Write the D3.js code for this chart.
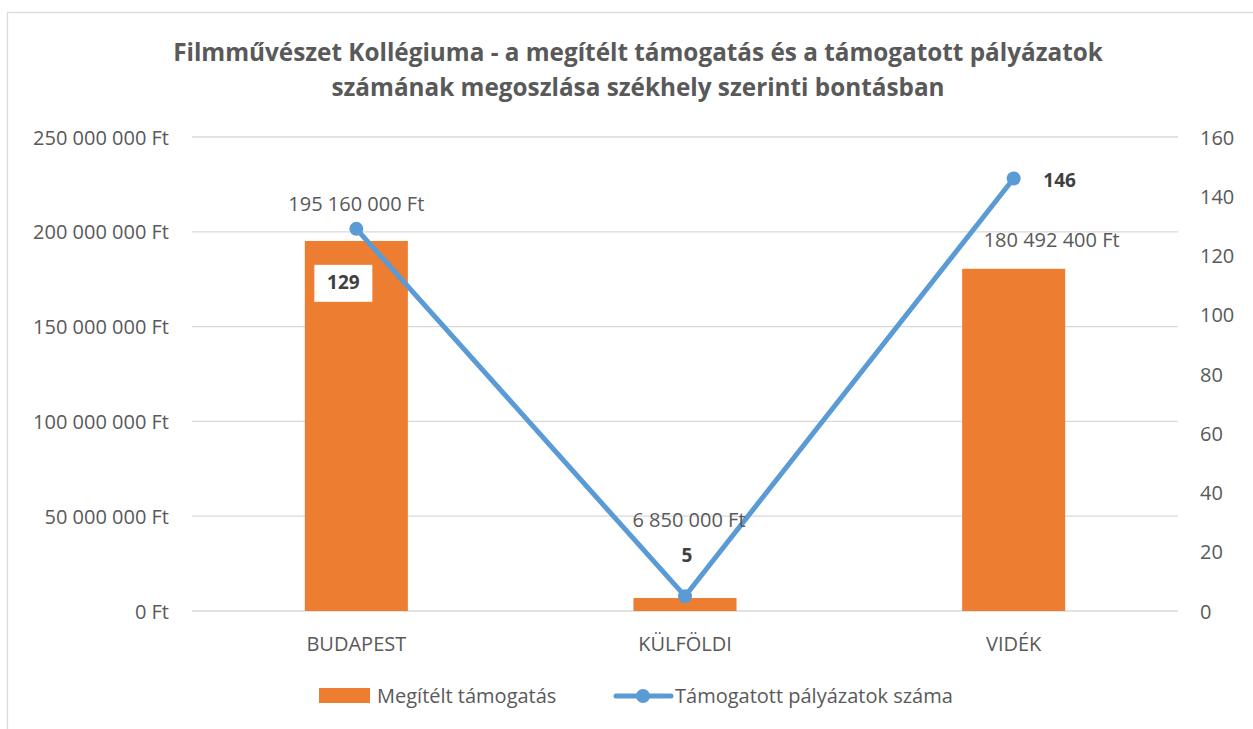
<!DOCTYPE html>
<html lang="hu">
<head>
<meta charset="UTF-8">
<title>Filmművészet Kollégiuma</title>
<script src="https://d3js.org/d3.v7.min.js"></script>
<style>
    body { margin: 0; background: #fff; }
    text { font-family: "Open Sans", sans-serif; fill: #595959; }
    .grid line { stroke: #d9d9d9; stroke-width: 1.3px; }
    .axis path, .axis line { display: none; }
    .axis text { font-size: 20px; }
</style>
</head>
<body>
<div id="chart"></div>
<script>
    // adatok
    const categories = ["BUDAPEST", "KÜLFÖLDI", "VIDÉK"];
    const amounts = [195160000, 6850000, 180492400];
    const counts = [129, 5, 146];
    const amountTicks = [0, 50000000, 100000000, 150000000, 200000000, 250000000];
    const countTicks = [0, 20, 40, 60, 80, 100, 120, 140, 160];
    const titleLines = ["Filmművészet Kollégiuma - a megítélt támogatás és a támogatott pályázatok",
                        "számának megoszlása székhely szerinti bontásban"];
    const legendLabels = ["Megítélt támogatás", "Támogatott pályázatok száma"];

    const width = 1253, height = 729;
    const margin = {top: 137, right: 75, bottom: 118, left: 192};

    const svg = d3.select("#chart").append("svg")
        .attr("width", width)
        .attr("height", height);

    // keret
    svg.append("rect")
        .attr("x", 7.5).attr("y", 12.5)
        .attr("width", width + 10).attr("height", height)
        .attr("fill", "none").attr("stroke", "#d9d9d9").attr("stroke-width", 1.3);

    // cím
    svg.append("text")
        .attr("x", 638).attr("y", 61)
        .attr("text-anchor", "middle")
        .style("font-size", "24.3px").style("font-weight", "bold")
        .selectAll("tspan").data(titleLines).enter().append("tspan")
        .attr("x", 638).attr("dy", (d, i) => i ? 35 : 0)
        .text(d => d);

    const x = d3.scaleBand().domain(categories)
        .range([margin.left, width - margin.right]);
    const y = d3.scaleLinear().domain([0, 250000000])
        .range([height - margin.bottom, margin.top]);
    const y2 = d3.scaleLinear().domain([0, 160])
        .range([height - margin.bottom, margin.top]);

    const fmt = v => d3.format(",")(v).replace(/,/g, " ") + " Ft";

    // rácsvonalak
    svg.append("g").attr("class", "grid")
        .selectAll("line").data(amountTicks).enter().append("line")
        .attr("x1", margin.left).attr("x2", width - margin.right)
        .attr("y1", d => y(d)).attr("y2", d => y(d));

    svg.append("g").attr("class", "axis")
        .attr("transform", "translate(" + (margin.left - 20) + ",0)")
        .call(d3.axisLeft(y).tickValues(amountTicks).tickFormat(fmt).tickSize(0))
        .selectAll("text").attr("dy", "0.35em");

    svg.append("g").attr("class", "axis")
        .attr("transform", "translate(" + (width - margin.right + 19) + ",0)")
        .call(d3.axisRight(y2).tickValues(countTicks).tickSize(0))
        .selectAll("text").attr("dy", "0.35em");

    svg.append("g").attr("class", "axis")
        .attr("transform", "translate(0," + (height - margin.bottom + 30) + ")")
        .call(d3.axisBottom(x).tickSize(0))
        .selectAll("text").attr("dy", "0.35em");

    // oszlopok
    const barW = x.bandwidth() / 3.19;
    svg.selectAll(".bar").data(categories).enter().append("rect")
        .attr("class", "bar")
        .attr("x", d => x(d) + x.bandwidth() / 2 - barW / 2)
        .attr("width", barW)
        .attr("y", (d, i) => y(amounts[i]))
        .attr("height", (d, i) => y(0) - y(amounts[i]))
        .attr("fill", "#ed7d31");

    // vonal
    const cx = d => x(d) + x.bandwidth() / 2;
    const line = d3.line().x(d => cx(d)).y((d, i) => y2(counts[i]));
    svg.append("path").datum(categories)
        .attr("d", line)
        .attr("fill", "none").attr("stroke", "#5b9bd5").attr("stroke-width", 5)
        .attr("stroke-linejoin", "round");
    svg.selectAll(".dot").data(categories).enter().append("circle")
        .attr("cx", cx).attr("cy", (d, i) => y2(counts[i]))
        .attr("r", 7).attr("fill", "#5b9bd5");

    // adatfeliratok - összeg
    const amountOffsets = [[0, -37], [4, -78], [38, -29]];
    svg.selectAll(".alabel").data(categories).enter().append("text")
        .attr("x", (d, i) => cx(d) + amountOffsets[i][0])
        .attr("y", (d, i) => y(amounts[i]) + amountOffsets[i][1])
        .attr("text-anchor", "middle").attr("dy", "0.35em")
        .style("font-size", "20px")
        .text((d, i) => fmt(amounts[i]));

    // adatfeliratok - darabszám
    const countOffsets = [[-13, 54], [2, -41], [46, 2]];
    const cl = svg.selectAll(".clabel").data(categories).enter().append("g")
        .attr("transform", (d, i) => "translate(" + (cx(d) + countOffsets[i][0]) + "," + (y2(counts[i]) + countOffsets[i][1]) + ")");
    cl.filter((d, i) => i === 0).append("rect")
        .attr("x", -29).attr("y", -18).attr("width", 58).attr("height", 37)
        .attr("fill", "#fff");
    cl.append("text")
        .attr("text-anchor", "middle").attr("dy", "0.35em")
        .style("font-size", "19px").style("font-weight", "bold")
        .style("fill", "#404040")
        .text((d, i) => counts[i]);

    // jelmagyarázat
    const lg = svg.append("g");
    lg.append("rect").attr("x", 319).attr("y", 688).attr("width", 51).attr("height", 15)
        .attr("fill", "#ed7d31");
    lg.append("text").attr("x", 377).attr("y", 696).attr("dy", "0.35em")
        .style("font-size", "20px").text(legendLabels[0]);
    lg.append("line").attr("x1", 616).attr("x2", 671).attr("y1", 696).attr("y2", 696)
        .attr("stroke", "#5b9bd5").attr("stroke-width", 5).attr("stroke-linecap", "round");
    lg.append("circle").attr("cx", 643).attr("cy", 696).attr("r", 7).attr("fill", "#5b9bd5");
    lg.append("text").attr("x", 675).attr("y", 696).attr("dy", "0.35em")
        .style("font-size", "20px").text(legendLabels[1]);
</script>
</body>
</html>
